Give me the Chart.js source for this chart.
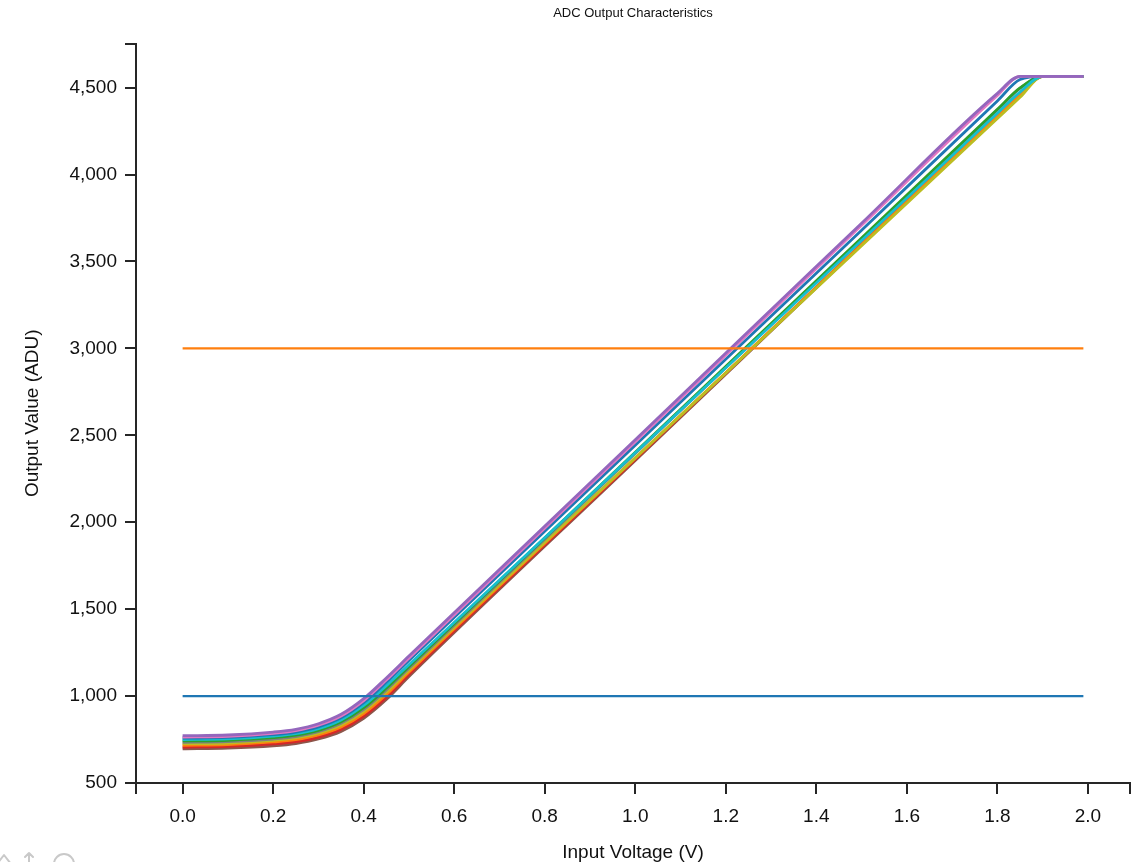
<!DOCTYPE html>
<html>
<head>
<meta charset="utf-8">
<title>ADC Output Characteristics</title>
<script src="https://cdn.jsdelivr.net/npm/chart.js@4/dist/chart.umd.min.js"></script>
<style>
  html, body { margin: 0; padding: 0; background: #ffffff; }
  #wrap { width: 1141px; height: 862px; }
</style>
</head>
<body>
<div id="wrap"><canvas id="adc" width="1141" height="862"></canvas></div>
<script>
// Input voltages (V) at which every channel's output was sampled
const inputVoltage = [0, 0.1, 0.2, 0.25, 0.3, 0.35, 0.4, 0.45, 0.5, 1.0, 1.5, 1.8, 1.85, 1.9, 1.95, 1.99];

// Output codes (ADU) per channel, one array per channel
const chPurple = [772, 776, 793, 809, 841, 895, 985, 1104, 1230, 2475, 3720, 4467, 4565, 4565, 4565, 4565];
const chPink   = [764, 768, 785, 801, 832, 885, 974, 1092, 1218, 2463, 3708, 4455, 4565, 4565, 4565, 4565];
const chBlue   = [758, 762, 778, 793, 823, 875, 962, 1079, 1205, 2443, 3680, 4423, 4546, 4565, 4565, 4565];
const chCyan   = [750, 754, 770, 784, 813, 863, 946, 1060, 1180, 2400, 3620, 4352, 4474, 4565, 4565, 4565];
const chGreen  = [742, 746, 761, 775, 803, 852, 933, 1046, 1170, 2403, 3635, 4375, 4498, 4565, 4565, 4565];
const chGray   = [734, 738, 753, 767, 795, 843, 923, 1035, 1160, 2395, 3630, 4371, 4495, 4565, 4565, 4565];
const chOlive  = [726, 730, 745, 759, 786, 833, 912, 1023, 1150, 2370, 3590, 4322, 4444, 4565, 4565, 4565];
const chOrange = [717, 721, 736, 749, 776, 822, 899, 1009, 1138, 2368, 3598, 4336, 4459, 4565, 4565, 4565];
const chRed    = [707, 711, 725, 738, 764, 809, 885, 994, 1125, 2363, 3600, 4343, 4466, 4565, 4565, 4565];
const chBrown  = [697, 701, 714, 727, 753, 797, 872, 980, 1112, 2355, 3597, 4343, 4467, 4565, 4565, 4565];

// Reference thresholds (ADU) drawn across the input range
const thresholdVoltage = [0, 1.99];
const lowThreshold  = [1000, 1000];
const highThreshold = [3000, 3000];

// Axis ticks and ranges
const xTickValues = [0.0, 0.2, 0.4, 0.6, 0.8, 1.0, 1.2, 1.4, 1.6, 1.8, 2.0];
const yTickValues = [500, 1000, 1500, 2000, 2500, 3000, 3500, 4000, 4500];
const xRange = [-0.103, 2.093];
const yRange = [500, 4753];

// Channels listed top-most first; the first one is painted last
const channels = [
  { values: chPurple, color: '#9467bd' },
  { values: chPink,   color: '#e377c2' },
  { values: chBlue,   color: '#1f77b4' },
  { values: chCyan,   color: '#17becf' },
  { values: chGreen,  color: '#2ca02c' },
  { values: chGray,   color: '#7f7f7f' },
  { values: chOlive,  color: '#bcbd22' },
  { values: chOrange, color: '#ff7f0e' },
  { values: chRed,    color: '#d62728' },
  { values: chBrown,  color: '#8c564b' }
];

const FONT = '"Liberation Sans", Arial, Helvetica, sans-serif';
const AXIS = '#262626';
const TEXT = '#111111';

const pairs = (xs, ys) => xs.map((x, i) => ({ x: x, y: ys[i] }));

const datasets = [
  { data: pairs(thresholdVoltage, lowThreshold),  borderColor: '#1f77b4', borderWidth: 2.2, order: 0, tension: 0 },
  { data: pairs(thresholdVoltage, highThreshold), borderColor: '#ff7f0e', borderWidth: 2.2, order: 0, tension: 0 }
];
channels.forEach((c, i) => {
  datasets.push({
    data: pairs(inputVoltage, c.values),
    borderColor: c.color,
    borderWidth: 2.8,
    cubicInterpolationMode: 'monotone',
    order: 1 + i
  });
});

// Tick list with an unlabelled outer tick at each end of the axis
const withEnds = (vals, range) => {
  const all = [range[0]].concat(vals, [range[1]]);
  return all.filter((v, i) => all.findIndex(w => Math.abs(w - v) < 1e-9) === i).map(v => ({ value: v }));
};
const isLabelled = (v, vals) => vals.some(t => Math.abs(t - v) < 1e-9);

// Faint home / pan / zoom toolbar glyphs in the lower-left corner
const toolbarIcons = {
  id: 'toolbarIcons',
  afterDraw(chart) {
    const c = chart.ctx;
    c.save();
    c.strokeStyle = '#c9c9c9';
    c.lineWidth = 2;
    c.lineCap = 'round';
    c.lineJoin = 'round';
    // home
    c.beginPath();
    c.moveTo(-3, 864); c.lineTo(4, 855); c.lineTo(11, 864);
    c.stroke();
    // pan arrow
    c.beginPath();
    c.moveTo(29, 864); c.lineTo(29, 853);
    c.moveTo(25, 857); c.lineTo(29, 853); c.lineTo(33, 857);
    c.stroke();
    // zoom lens
    c.beginPath();
    c.arc(64, 864, 10, 0, Math.PI * 2);
    c.stroke();
    c.restore();
  }
};

new Chart(document.getElementById('adc'), {
  type: 'line',
  data: { datasets: datasets },
  plugins: [toolbarIcons],
  options: {
    responsive: false,
    animation: false,
    events: [],
    layout: { padding: { left: 0, right: 11, top: 0, bottom: 0 } },
    elements: { point: { radius: 0 }, line: { fill: false } },
    plugins: {
      legend: { display: false },
      tooltip: { enabled: false },
      title: {
        display: true,
        text: 'ADC Output Characteristics',
        fullSize: false,
        color: TEXT,
        font: { family: FONT, size: 13, weight: 'normal' },
        padding: { top: 6, bottom: 22 }
      }
    },
    scales: {
      x: {
        type: 'linear',
        min: xRange[0],
        max: xRange[1],
        afterBuildTicks: s => { s.ticks = withEnds(xTickValues, xRange); },
        afterFit: s => { s.height = 79; },
        ticks: {
          autoSkip: false,
          maxRotation: 0,
          padding: 11,
          color: TEXT,
          font: { family: FONT, size: 19 },
          callback: v => isLabelled(v, xTickValues) ? v.toFixed(1) : ''
        },
        grid: { drawOnChartArea: false, drawTicks: true, tickLength: 11, color: AXIS, lineWidth: 2 },
        border: { display: true, color: AXIS, width: 2 },
        title: {
          display: true,
          text: 'Input Voltage (V)',
          color: TEXT,
          font: { family: FONT, size: 19, lineHeight: 1 },
          padding: { top: 0, bottom: 0 }
        }
      },
      y: {
        type: 'linear',
        min: yRange[0],
        max: yRange[1],
        afterBuildTicks: s => { s.ticks = withEnds(yTickValues, yRange); },
        afterFit: s => { s.width = 136; },
        ticks: {
          autoSkip: false,
          padding: 8,
          color: TEXT,
          font: { family: FONT, size: 19 },
          callback: v => isLabelled(v, yTickValues) ? v.toLocaleString('en-US') : ''
        },
        grid: { drawOnChartArea: false, drawTicks: true, tickLength: 11, color: AXIS, lineWidth: 2 },
        border: { display: true, color: AXIS, width: 2 },
        title: {
          display: true,
          text: 'Output Value (ADU)',
          color: TEXT,
          font: { family: FONT, size: 19, lineHeight: 1 },
          padding: { top: 23, bottom: 0 }
        }
      }
    }
  }
});
</script>
</body>
</html>
